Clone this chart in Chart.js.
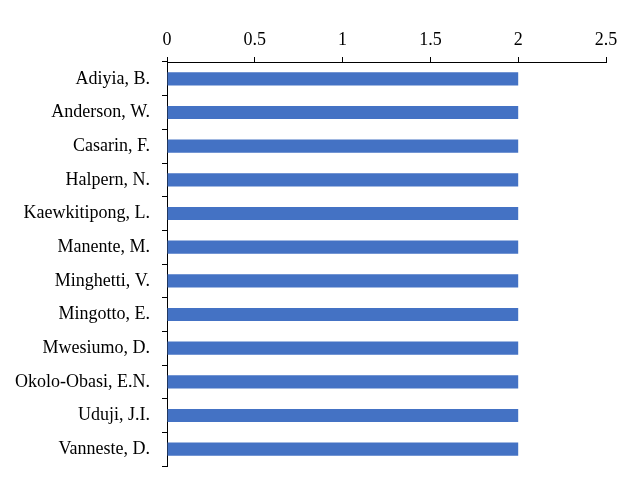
<!DOCTYPE html>
<html>
<head>
<meta charset="utf-8">
<script src="https://cdn.jsdelivr.net/npm/chart.js@4"></script>
<style>
  html, body { margin: 0; padding: 0; background: #fff; }
  #wrap { width: 630px; height: 482px; }
</style>
</head>
<body>
<div id="wrap"><canvas id="chart"></canvas></div>
<script>
const authors = ['Adiyia, B.', 'Anderson, W.', 'Casarin, F.', 'Halpern, N.', 'Kaewkitipong, L.',
  'Manente, M.', 'Minghetti, V.', 'Mingotto, E.', 'Mwesiumo, D.', 'Okolo-Obasi, E.N.',
  'Uduji, J.I.', 'Vanneste, D.'];
const counts = [2, 2, 2, 2, 2, 2, 2, 2, 2, 2, 2, 2];
const xMin = 0;
const xMax = 2.5;
const xStep = 0.5;

const ctx = document.getElementById('chart').getContext('2d');
new Chart(ctx, {
  type: 'bar',
  data: {
    labels: authors,
    datasets: [{
      data: counts,
      backgroundColor: '#4472C4',
      borderWidth: 0,
      barPercentage: 0.39,
      categoryPercentage: 1
    }]
  },
  options: {
    indexAxis: 'y',
    responsive: true,
    maintainAspectRatio: false,
    animation: false,
    layout: { padding: { left: 0, right: 24, top: 0, bottom: 16 } },
    plugins: {
      legend: { display: false },
      tooltip: { enabled: false }
    },
    scales: {
      x: {
        position: 'top',
        min: xMin,
        max: xMax,
        ticks: {
          stepSize: xStep,
          color: '#000',
          padding: 6,
          font: { family: 'Liberation Serif', size: 18 },
          callback: (v) => String(v)
        },
        grid: { drawOnChartArea: false, drawTicks: true, tickLength: 5, color: '#000' },
        border: { color: '#000', width: 1 },
        afterFit(scale) { scale.height = 62; }
      },
      y: {
        ticks: {
          color: '#000',
          padding: 12,
          font: { family: 'Liberation Serif', size: 18 }
        },
        grid: { drawOnChartArea: false, drawTicks: true, tickLength: 5, color: '#000', offset: true },
        border: { color: '#000', width: 1 },
        afterFit(scale) {
          scale.width = 167;
          scale.paddingTop = 0;
          scale.paddingBottom = 0;
        }
      }
    }
  }
});
</script>
</body>
</html>
